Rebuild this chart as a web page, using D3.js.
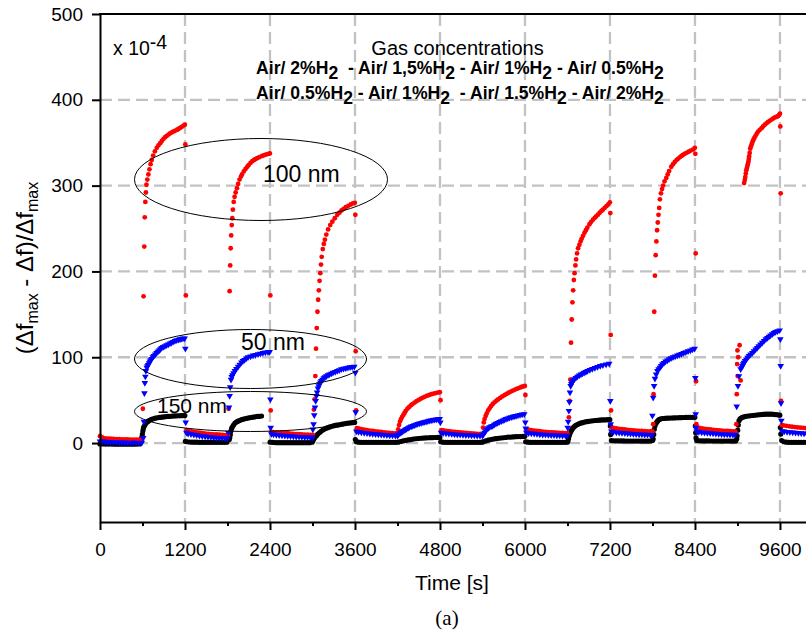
<!DOCTYPE html>
<html><head><meta charset="utf-8">
<script src="https://cdn.jsdelivr.net/npm/d3@7"></script>
<style>
html,body{margin:0;padding:0;background:#fff;}
svg{display:block;font-family:"Liberation Sans",Arial,sans-serif;}
</style></head>
<body><svg id="chart" width="806" height="637"></svg>
<script>
const xTicks = [0,1200,2400,3600,4800,6000,7200,8400,9600];
const xMinor = [600,1800,3000,4200,5400,6600,7800,9000];
const yTicks = [0,100,200,300,400,500];

// 100 nm (red circles): [time s, value x1e-4]
const red100 = [
[0,8],[30,6.5],[70,5.5],[110,5],[150,5],[190,4.8],[230,4.6],[270,4.5],[310,4.4],[350,4.3],[390,4.2],[430,4.1],[470,4],[510,4],[550,4],[590,4.2],
[605,40],[615,171],[625,229],[632,263],[640,281],[648,292],
[656,301],[668,307],[683,313],[698,319],[714,325],[731,330],[750,335],[775,340],[802,344],[825,347],[850,349.5],[873,352],[897,354.5],[920,356.5],[943,358],[967,359.5],[990,361],[1014,362],[1040,363.2],[1065,364.2],[1090,365.2],[1108,366],[1130,367.2],[1155,368.5],[1180,370],[1198,371],
[1205,348],[1212,172],
[1222,15],[1250,14],[1290,13.5],[1330,13],[1370,12.5],[1410,12],[1450,11.5],[1490,11],[1530,10.8],[1570,10.5],[1610,10.2],[1650,10],[1690,9.7],[1730,9.5],[1770,9.3],[1805,9.2],
[1815,40],[1830,177],[1838,207],[1845,227],[1852,242],[1860,254],[1868,262],[1876,272],
[1888,281],[1900,287],[1915,292],[1934,297],[1950,302],[1970,307],[1990,310.5],[2005,313],[2030,316.5],[2055,319.5],[2080,322],[2099,324],[2125,326.5],[2150,328.5],[2175,330],[2193,330.8],[2220,332],[2250,333.2],[2288,334.5],[2320,335.5],[2350,336.3],[2382,337],[2398,337.5],
[2405,172],[2410,38],
[2420,13],[2450,12.8],[2490,12.5],[2530,12.2],[2570,12],[2610,11.7],[2650,11.4],[2690,11.1],[2730,10.8],[2770,10.5],[2810,10.3],[2850,10.1],[2890,9.9],[2930,9.7],[2970,9.6],[3005,9.5],
[3020,39],[3030,51],[3040,78],[3050,110],[3060,134],[3070,153],[3080,167],[3090,178],[3100,189],[3110,198],[3120,208],[3130,217],[3145,226],
[3160,232],[3175,237],[3195,243],[3220,249],[3250,254],[3280,258],[3315,262],[3350,266],[3380,268.5],[3410,271],[3440,273],[3470,274.8],[3505,276.5],[3540,278],[3570,279.2],[3598,280],
[3605,266],[3610,107],[3615,38],
[3625,17.5],[3650,17],[3690,16.3],[3730,15.7],[3770,15.1],[3810,14.6],[3850,14.1],[3890,13.7],[3930,13.3],[3970,12.9],[4010,12.5],[4050,12.2],[4090,11.9],[4130,11.6],[4170,11.3],[4195,11.2],
[4210,16],[4222,21],[4235,25],[4250,28],[4265,30.5],[4285,33],[4300,35],[4316,37.5],[4340,40],[4365,42],[4390,44],[4410,45.3],[4440,47],[4470,48.8],[4500,50.3],[4530,51.7],[4560,53],[4590,54.2],[4620,55.2],[4650,56.1],[4680,57],[4710,57.7],[4740,58.3],[4770,58.8],[4798,59.2],
[4808,50],
[4820,15],[4850,14.7],[4890,14.2],[4930,13.8],[4970,13.4],[5010,13],[5050,12.6],[5090,12.3],[5130,12],[5170,11.7],[5210,11.4],[5250,11.2],[5290,11],[5330,10.8],[5370,10.6],[5395,10.5],
[5408,18],[5418,24],[5430,28],[5445,31.5],[5460,34.5],[5480,38],[5500,40.5],[5520,43],[5545,45.5],[5570,47.5],[5595,49.3],[5620,50.8],[5650,52.6],[5680,54.3],[5710,55.8],[5740,57.3],[5770,58.7],[5800,60],[5830,61.2],[5860,62.3],[5890,63.4],[5920,64.4],[5950,65.3],[5975,66],[5998,66.5],
[6006,56],
[6020,16],[6050,15.6],[6090,15.1],[6130,14.6],[6170,14.2],[6210,13.8],[6250,13.4],[6290,13.1],[6330,12.8],[6370,12.5],[6410,12.3],[6450,12.1],[6490,11.9],[6530,11.7],[6570,11.6],[6598,11.5],
[6620,30],[6630,49],[6640,74],[6650,117],[6660,144],[6670,164],[6680,178],[6690,190],[6700,198],[6712,207],[6722,214],[6735,221],
[6750,227],[6768,231],[6785,235],[6800,238],[6820,241.5],[6840,245],[6860,248],[6880,251],[6910,255],[6935,257.8],[6960,260.3],[6985,262.5],[7004,264],[7030,266.2],[7055,268.4],[7080,270.5],[7100,272],[7125,274],[7150,276],[7175,278],[7198,280.5],
[7205,268],[7210,126],[7215,38],
[7225,18],[7250,17.6],[7290,17.1],[7330,16.6],[7370,16.2],[7410,15.8],[7450,15.4],[7490,15.1],[7530,14.8],[7570,14.5],[7610,14.3],[7650,14.1],[7690,13.9],[7730,13.7],[7770,13.6],[7800,13.5],
[7810,22],[7815,57],[7825,153],[7835,195],[7845,219],[7855,235],[7865,248],[7875,257],[7885,266],[7895,274],[7905,284],
[7920,291],[7935,296],[7950,300],[7970,305],[7995,309],[8015,313],[8035,317],[8066,322],[8090,325],[8115,327.6],[8140,329.8],[8160,331.2],[8185,333],[8210,334.6],[8230,335.8],[8254,337],[8280,338.2],[8310,339.5],[8340,340.8],[8372,342],[8398,344],
[8405,337],[8410,221],[8415,72],[8420,22],
[8430,18],[8460,17.6],[8500,17.1],[8540,16.6],[8580,16.2],[8620,15.8],[8660,15.4],[8700,15.1],[8740,14.8],[8780,14.5],[8820,14.3],[8860,14.1],[8900,13.9],[8940,13.7],[8970,13.6],
[8984,22],[8990,57],[8995,92],[9000,108],[9003,78],[9010,100],[9030,114],[9045,73],
[9094,303],[9103,306.5],[9110,310],[9118,314],[9125,318],[9133,320.5],[9140,323],[9148,325.5],[9155,328],[9160,331],[9165,334],[9172,338],[9180,343],[9190,345.5],[9200,348],[9210,350.5],[9222,353],[9238,355.5],[9255,358],[9272,360.5],[9292,363],[9315,365],[9340,367],[9362,369],[9386,371],[9410,372.6],[9430,374],[9455,375.5],[9481,377],[9505,378.3],[9530,379.5],[9555,380.3],[9575,381],[9590,382.5],[9600,384],
[9605,369],[9610,291],[9615,49],
[9625,21],[9650,20.6],[9690,20],[9730,19.5],[9770,19],[9810,18.6],[9850,18.2],[9890,17.9],[9930,17.6],[9970,17.3],[10000,17.1]
];

// 50 nm (blue down-triangles)
const blue50 = [
[0,2],[30,1.8],[70,1.5],[110,1.3],[150,1.1],[190,1],[230,0.9],[270,0.8],[310,0.7],[350,0.6],[390,0.5],[430,0.5],[470,0.4],[510,0.4],[550,0.3],[590,0.5],
[610,6],[620,25],[627,58],[633,70],[640,77.5],[648,84],
[660,88],[670,89.6],[681,91],[693,93],[705,95],[717,96.5],[729,98],[745,100],[760,101.5],[780,103.3],[799,105],[817,106.5],[835,108],[852,109.5],[870,111],[892,112],[915,113],[940,114],[963,115],[987,116],[1010,117],[1033,118],[1057,119],[1083,119.8],[1110,120.5],[1130,121],[1150,121.5],[1172,121.8],[1195,122],
[1205,110],[1210,24],
[1220,12],[1245,11],[1285,10.3],[1325,9.7],[1365,9.1],[1405,8.6],[1445,8.1],[1485,7.7],[1525,7.3],[1565,7],[1605,6.7],[1645,6.4],[1685,6.1],[1725,5.9],[1765,5.7],[1800,5.6],
[1812,12],[1822,41.5],[1830,55],[1838,65],[1850,74],
[1860,77],[1870,79],[1886,81.5],[1903,84],[1925,86.5],[1950,89],[1973,91.5],[1997,94],[2018,95.6],[2040,97],[2065,98.5],[2090,100],[2125,101],[2160,102],[2195,102.8],[2231,103.5],[2265,104.2],[2300,105],[2335,105.5],[2372,106],[2395,106.3],
[2405,51],[2410,18],
[2420,10.5],[2450,10],[2490,9.6],[2530,9.2],[2570,8.8],[2610,8.5],[2650,8.2],[2690,7.9],[2730,7.7],[2770,7.5],[2810,7.3],[2850,7.1],[2890,6.9],[2930,6.8],[2970,6.7],[3000,6.6],
[3005,16],[3015,22],[3025,32.5],[3035,41.5],[3045,49],[3055,55],
[3065,59],[3077,63.6],[3088,66.3],[3100,68.5],[3112,70.6],[3125,72.5],[3142,74],[3160,75.5],[3177,76.8],[3195,78],[3218,79],[3240,80],[3265,81],[3289,82],[3320,83],[3350,84],[3378,85],[3407,86],[3438,86.7],[3470,87.3],[3500,87.8],[3530,88.3],[3560,88.7],[3590,89],
[3605,82],[3610,36],
[3620,13.5],[3650,13],[3690,12.4],[3730,11.9],[3770,11.4],[3810,11],[3850,10.6],[3890,10.3],[3930,10],[3970,9.7],[4010,9.4],[4050,9.2],[4090,9],[4130,8.8],[4170,8.6],[4200,8.5],
[4215,10],[4233,11.3],[4253,12.5],[4272,13.6],[4290,14.5],[4310,15.5],[4330,16.5],[4350,17.5],[4370,18.5],[4393,19.3],[4416,20],[4438,20.8],[4460,21.5],[4485,22.3],[4510,23],[4535,23.5],[4560,24],[4583,24.5],[4605,25],[4628,25.5],[4650,26],[4675,26.5],[4700,27],[4725,27.3],[4750,27.5],[4775,27.8],[4795,28],
[4805,24],
[4815,12],[4845,11.6],[4885,11.2],[4925,10.8],[4965,10.5],[5005,10.2],[5045,9.9],[5085,9.7],[5125,9.5],[5165,9.3],[5205,9.1],[5245,8.9],[5285,8.8],[5325,8.7],[5365,8.6],[5400,8.5],
[5412,10],[5430,12],[5445,14],[5460,16],[5480,17.3],[5500,18.5],[5522,19.3],[5544,20],[5567,21.3],[5590,22.5],[5615,23.5],[5640,24.5],[5665,25.5],[5690,26.5],[5712,27.3],[5733,28],[5757,28.8],[5780,29.5],[5805,30.2],[5830,30.8],[5852,31.2],[5874,31.7],[5900,32.2],[5930,32.8],[5960,33.3],[5990,33.7],
[6005,24],[6010,17],
[6020,12],[6050,11.6],[6090,11.2],[6130,10.8],[6170,10.5],[6210,10.2],[6250,9.9],[6290,9.7],[6330,9.5],[6370,9.3],[6410,9.1],[6450,8.9],[6490,8.8],[6530,8.7],[6570,8.6],[6595,8.5],
[6603,18],[6610,25],[6620,37.6],[6628,48],[6635,59],[6645,66.7],
[6655,69],[6665,71],[6680,72.8],[6696,74.4],[6718,76],[6740,77.5],[6765,78.8],[6790,80],[6812,81],[6835,82],[6860,83],[6883,84],[6915,85.3],[6950,86.5],[6987,87.6],[7024,88.7],[7062,89.8],[7100,90.8],[7145,91.7],[7189,92.6],
[7205,49],[7210,22],
[7220,13.5],[7250,13],[7290,12.5],[7330,12.1],[7370,11.7],[7410,11.4],[7450,11.1],[7490,10.8],[7530,10.6],[7570,10.4],[7610,10.2],[7650,10],[7690,9.8],[7730,9.7],[7770,9.6],[7795,9.5],
[7799,32],[7810,53],[7823,66.7],[7835,75],
[7852,80],[7870,84],[7887,86],[7905,88],[7922,90],[7940,92],[7962,93.5],[7985,95],[8010,96.4],[8035,97.7],[8062,98.9],[8090,100],[8120,101],[8152,102],[8180,103],[8210,104],[8240,105],[8270,106],[8302,107],[8335,108],[8365,109],[8395,110],
[8405,76],[8410,33.7],[8415,18],
[8425,13.5],[8455,13],[8495,12.5],[8535,12.1],[8575,11.7],[8615,11.4],[8655,11.1],[8695,10.8],[8735,10.6],[8775,10.4],[8815,10.2],[8855,10],[8895,9.8],[8935,9.7],[8970,9.6],
[8989,42.6],[9007,66.7],[9021,78],[9045,86],
[9058,88],[9070,90],[9081,92],[9092,93.8],[9108,95.6],[9125,97.5],[9143,99.5],[9162,101.5],[9185,103.2],[9210,105],[9233,107],[9257,109],[9278,111],[9300,113],[9325,115],[9350,117],[9375,119],[9400,121],[9422,122.5],[9444,124],[9467,125.5],[9490,127],[9514,128.3],[9538,129.5],[9565,130.5],[9595,131.4],
[9605,121],[9610,90],[9615,46.5],[9620,26],
[9630,14],[9660,13.6],[9700,13.1],[9740,12.7],[9780,12.3],[9820,12],[9860,11.7],[9900,11.4],[9940,11.1],[9980,10.9],[10000,10.8]
];

// 150 nm (black circles)
const black150 = [
[0,-1],[40,-1],[80,-1.2],[120,-1.2],[160,-1.2],[200,-1.3],[240,-1.3],[280,-1.3],[320,-1.3],[360,-1.3],[400,-1.3],[440,-1.3],[480,-1.3],[520,-1.2],[560,-1],
[590,6.6],[598,10],[605,14],[612,17],[620,19],[634,21],[648,23],[665,24.5],[681,25.5],[700,26.5],[725,27.5],[751,28.3],[780,29],[810,29.5],[840,29.9],[870,30.2],[900,30.5],[930,30.8],[960,31],[990,31.2],[1020,31.4],[1050,31.6],[1080,31.7],[1110,31.8],[1140,31.9],[1170,32],[1198,32],
[1205,2],[1230,1.5],[1265,1.2],[1300,1],[1335,1],[1370,1],[1405,0.9],[1440,0.9],[1475,0.9],[1510,0.8],[1545,0.8],[1580,0.8],[1615,0.8],[1650,0.8],[1685,0.8],[1720,0.8],[1755,0.8],[1790,1],
[1825,4],[1832,6.6],[1840,10],[1848,14],[1858,17],[1870,19],[1885,21],[1903,23],[1920,24.2],[1940,25.2],[1960,26],[1985,26.8],[2010,27.5],[2040,28.2],[2070,28.8],[2100,29.3],[2130,29.8],[2160,30.2],[2190,30.6],[2220,31],[2250,31.2],[2280,31.5],
[2402,1],[2435,0.8],[2470,0.6],[2505,0.5],[2540,0.5],[2575,0.5],[2610,0.5],[2645,0.5],[2680,0.5],[2715,0.5],[2750,0.5],[2785,0.5],[2820,0.5],[2855,0.5],[2890,0.5],[2925,0.5],[2960,0.5],[2995,1],
[3007,2.7],[3020,5],[3035,6.8],[3055,8.5],[3075,10.5],[3100,12.3],[3125,14],[3150,15.5],[3175,16.6],[3200,17.4],[3218,18],[3245,18.8],[3275,19.6],[3305,20.3],[3335,20.8],[3359,21],[3390,21.5],[3420,22],[3450,22.5],[3480,23],[3510,23.3],[3540,23.6],[3570,23.8],[3595,24],
[3605,4],[3620,1.5],[3650,1],[3685,0.9],[3720,0.8],[3755,0.8],[3790,0.8],[3825,0.8],[3860,0.8],[3895,0.8],[3930,0.8],[3965,0.8],[4000,0.8],[4035,0.8],[4070,0.8],[4105,0.8],[4140,0.8],[4175,0.8],
[4210,1],[4245,1.8],[4280,2.5],[4315,3.1],[4350,3.6],[4385,4.1],[4420,4.6],[4455,5],[4490,5.3],[4525,5.6],[4560,5.8],[4595,6],[4630,6.2],[4665,6.3],[4700,6.4],[4735,6.5],[4770,6.6],[4798,6.6],
[4810,1.5],[4840,1],[4875,0.9],[4910,0.8],[4945,0.8],[4980,0.8],[5015,0.8],[5050,0.8],[5085,0.8],[5120,0.8],[5155,0.8],[5190,0.8],[5225,0.8],[5260,0.8],[5295,0.8],[5330,0.8],[5365,0.8],[5395,1],
[5410,1.5],[5445,2.5],[5480,3.3],[5515,4],[5550,4.6],[5585,5.1],[5620,5.5],[5655,5.9],[5690,6.2],[5725,6.5],[5760,6.8],[5795,7],[5830,7.2],[5865,7.4],[5900,7.5],[5935,7.6],[5970,7.7],[5998,7.8],
[6010,1.5],[6040,1],[6075,0.9],[6110,0.8],[6145,0.8],[6180,0.8],[6215,0.8],[6250,0.8],[6285,0.8],[6320,0.8],[6355,0.8],[6390,0.8],[6425,0.8],[6460,0.8],[6495,0.8],[6530,0.8],[6565,0.8],[6595,1],
[6605,2],[6615,5],[6625,8.5],[6635,11],[6648,13.5],[6660,15.5],[6675,17.3],[6690,18.7],[6705,19.8],[6720,20.7],[6740,21.6],[6760,22.4],[6785,23.2],[6810,23.8],[6840,24.4],[6870,24.9],[6900,25.3],[6930,25.7],[6960,26],[6990,26.3],[7020,26.5],[7050,26.7],[7080,26.9],[7110,27],[7140,27.1],[7170,27.2],[7198,27.2],
[7205,20],[7210,10],
[7220,3],[7250,2.7],[7285,2.6],[7320,2.5],[7355,2.5],[7390,2.5],[7425,2.4],[7460,2.4],[7495,2.4],[7530,2.4],[7565,2.3],[7600,2.3],[7635,2.3],[7670,2.3],[7705,2.3],[7740,2.3],[7775,2.4],[7800,3],
[7810,4.6],[7818,10],[7825,16],[7835,20],[7845,22.5],[7858,24],[7870,25.5],[7885,26.8],[7900,27.6],[7920,28.2],[7945,28.6],[7975,28.8],[8005,29],[8035,29.1],[8065,29.2],[8095,29.3],[8125,29.4],[8155,29.5],[8185,29.6],[8215,29.7],[8245,29.8],[8275,29.9],[8305,30],[8335,30],[8365,30],[8398,30],
[8405,20],[8410,12],[8415,6],
[8425,3],[8455,2.7],[8490,2.6],[8525,2.5],[8560,2.5],[8595,2.5],[8630,2.4],[8665,2.4],[8700,2.4],[8735,2.4],[8770,2.3],[8805,2.3],[8840,2.3],[8875,2.3],[8910,2.3],[8945,2.3],[8975,2.5],
[8990,5],[8995,8.5],[9003,15],[9012,21],[9021,26],[9035,28],[9050,29.2],[9070,30],[9092,30.6],[9120,31.1],[9150,31.5],[9180,31.8],[9210,32.1],[9240,32.4],[9270,32.7],[9300,33],[9330,33.2],[9360,33.4],[9390,33.6],[9420,33.7],[9450,33.7],[9480,33.7],[9510,33.5],[9540,33.2],[9570,32.9],[9598,32.5],
[9605,18],[9612,10.5],
[9625,3],[9655,1.5],[9690,1],[9725,0.8],[9760,0.8],[9795,0.8],[9830,0.8],[9865,0.8],[9900,0.8],[9935,0.8],[9970,0.8],[10000,0.8]
];

const svg = d3.select("#chart");
const x = d3.scaleLinear().domain([0, 10000]).range([100, 808.3]);
const y = d3.scaleLinear().domain([-92, 500]).range([522, 14]);

// grid
const grid = svg.append("g").attr("stroke", "#c2c2c2").attr("stroke-width", 2.3).attr("stroke-dasharray", "12,6");
grid.selectAll("line.h").data(yTicks.filter(d => d < 500)).join("line")
  .attr("x1", x(0)).attr("x2", 806).attr("y1", d => y(d)).attr("y2", d => y(d));
grid.selectAll("line.v").data(xTicks.filter(d => d > 0)).join("line")
  .attr("x1", d => x(d)).attr("x2", d => x(d)).attr("y1", y(500)).attr("y2", y(-92));

// series
svg.append("g").selectAll("circle").data(black150).join("circle")
  .attr("cx", d => x(d[0])).attr("cy", d => y(d[1])).attr("r", 2.6).attr("fill", "#000");
svg.append("g").selectAll("circle").data(red100).join("circle")
  .attr("cx", d => x(d[0])).attr("cy", d => y(d[1])).attr("r", 2.4).attr("fill", "#ff0000");
const tri = d3.symbol().type(d3.symbolTriangle).size(19);
svg.append("g").selectAll("path").data(blue50).join("path")
  .attr("d", tri).attr("fill", "#0000ff")
  .attr("transform", d => `translate(${x(d[0])},${y(d[1])}) rotate(180)`);

// ellipses and labels
const ell = [
  {cx: 261, cy: 179.5, rx: 126.5, ry: 41},
  {cx: 250.5, cy: 359, rx: 116, ry: 29.5},
  {cx: 250.5, cy: 411.5, rx: 116, ry: 20}
];
svg.append("g").selectAll("ellipse").data(ell).join("ellipse")
  .attr("cx", d => d.cx).attr("cy", d => d.cy).attr("rx", d => d.rx).attr("ry", d => d.ry)
  .attr("fill", "none").attr("stroke", "#000").attr("stroke-width", 1);
const sizeLabels = [
  {t: "100 nm", x: 263, y: 182, s: 23},
  {t: "50 nm", x: 241, y: 350, s: 23},
  {t: "150 nm", x: 157, y: 413, s: 21}
];
svg.append("g").selectAll("text").data(sizeLabels).join("text")
  .attr("x", d => d.x).attr("y", d => d.y).attr("font-size", d => d.s).attr("fill", "#000").text(d => d.t);

// axes
const axL = svg.append("g").attr("transform", `translate(${x(0)},0)`)
  .call(d3.axisLeft(y).tickValues(yTicks).tickSize(8).tickSizeOuter(0).tickPadding(9).tickFormat(d3.format("d")));
const axB = svg.append("g").attr("transform", `translate(0,${y(-92)})`)
  .call(d3.axisBottom(x).tickValues(xTicks).tickSize(8).tickSizeOuter(0).tickPadding(13).tickFormat(d3.format("d")));
const axM = svg.append("g").attr("transform", `translate(0,${y(-92)})`)
  .call(d3.axisBottom(x).tickValues(xMinor).tickSize(4).tickSizeOuter(0).tickFormat(""));
axM.select(".domain").remove();
[axL, axB, axM].forEach(a => {
  a.selectAll(".domain").attr("stroke", "#000").attr("stroke-width", 2);
  a.selectAll(".tick line").attr("stroke", "#000").attr("stroke-width", 2);
  a.selectAll(".tick text").attr("font-size", 19).attr("fill", "#000")
    .attr("font-family", '"Liberation Sans", Arial, sans-serif');
});
svg.append("line").attr("x1", x(0) - 1).attr("x2", 806).attr("y1", y(500)).attr("y2", y(500))
  .attr("stroke", "#000").attr("stroke-width", 2);

// titles
const yl = svg.append("text").attr("transform", "translate(33,268) rotate(-90)")
  .attr("text-anchor", "middle").attr("font-size", 24).attr("fill", "#000");
yl.append("tspan").text("(Δf");
yl.append("tspan").attr("font-size", 16).attr("dy", 5).text("max");
yl.append("tspan").attr("dy", -5).text(" - Δf)/Δf");
yl.append("tspan").attr("font-size", 16).attr("dy", 5).text("max");

svg.append("text").attr("x", 452).attr("y", 590).attr("text-anchor", "middle")
  .attr("font-size", 21).attr("fill", "#000").text("Time [s]");
svg.append("text").attr("x", 447).attr("y", 625).attr("text-anchor", "middle")
  .attr("font-family", '"Liberation Serif", "Times New Roman", serif')
  .attr("font-size", 21).attr("fill", "#000").text("(a)");

const sc = svg.append("text").attr("x", 113).attr("y", 55).attr("font-size", 19.5).attr("fill", "#000");
sc.append("tspan").text("x 10");
sc.append("tspan").attr("dy", -6).text("-4");

svg.append("text").attr("x", 457.5).attr("y", 55).attr("text-anchor", "middle")
  .attr("font-size", 20).attr("fill", "#000").text("Gas concentrations");

const legendLines = [
  {y: 73.5, parts: ["Air/ 2%H", "  - Air/ 1,5%H", " - Air/ 1%H", " - Air/ 0.5%H"]},
  {y: 98.5, parts: ["Air/ 0.5%H", " - Air/ 1%H", "  - Air/ 1.5%H", " - Air/ 2%H"]}
];
legendLines.forEach(L => {
  const t = svg.append("text").attr("x", 460).attr("y", L.y).attr("text-anchor", "middle")
    .attr("font-size", 17.6).attr("font-weight", "bold").attr("fill", "#000")
    .style("white-space", "pre");
  L.parts.forEach((p, i) => {
    t.append("tspan").attr("dy", i === 0 ? 0 : -5).text(p);
    t.append("tspan").attr("dy", 5).text("2");
  });
});
</script></body></html>
